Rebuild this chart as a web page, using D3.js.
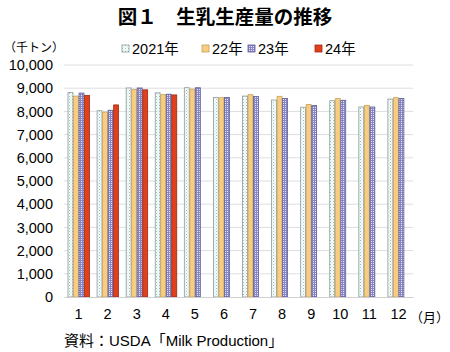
<!DOCTYPE html>
<html>
<head>
<meta charset="utf-8">
<script src="https://cdn.jsdelivr.net/npm/d3@7"></script>
<style>
body { margin: 0; background: #fff; }
text { font-family: "Liberation Sans", Arial, "Noto Sans CJK JP", sans-serif; fill: #000; }
.jp { font-family: "Noto Sans CJK JP", sans-serif; }
</style>
</head>
<body>
<svg id="chart" width="450" height="352"></svg>
<script>
// months on the x axis
var months = ["1", "2", "3", "4", "5", "6", "7", "8", "9", "10", "11", "12"];
var seriesNames = ["2021年", "22年", "23年", "24年"];
// thousand tonnes
var y2021 = [8810, 8030, 9010, 8800, 9020, 8600, 8660, 8490, 8180, 8460, 8190, 8530];
var y2022 = [8660, 7970, 8950, 8720, 8960, 8590, 8720, 8650, 8300, 8550, 8260, 8590];
var y2023 = [8790, 8050, 9010, 8740, 9020, 8600, 8640, 8560, 8250, 8480, 8190, 8560];
var y2024 = [8690, 8280, 8930, 8710];
var yTicks = [0, 1000, 2000, 3000, 4000, 5000, 6000, 7000, 8000, 9000, 10000];

var svg = d3.select("#chart"),
	margin = {top: 65, left: 64, bottom: 55, right: 37},
	width = +svg.attr("width"),
	height = +svg.attr("height");

var defs = svg.append("defs");

// dotted pattern for 2021
var p1 = defs.append("pattern").attr("id", "dots").attr("patternUnits", "userSpaceOnUse")
	.attr("width", 3).attr("height", 3);
p1.append("rect").attr("width", 3).attr("height", 3).attr("fill", "#fbfdfd");
p1.append("rect").attr("x", 0).attr("y", 0).attr("width", 1).attr("height", 1).attr("fill", "#8fc4c4");
p1.append("rect").attr("x", 1.5).attr("y", 1.5).attr("width", 1).attr("height", 1).attr("fill", "#b5dada");

// grid pattern for 2023
var p3 = defs.append("pattern").attr("id", "grid").attr("patternUnits", "userSpaceOnUse")
	.attr("width", 2).attr("height", 2);
p3.append("rect").attr("width", 2).attr("height", 2).attr("fill", "#e6e6f6");
p3.append("rect").attr("width", 2).attr("height", 1).attr("fill", "#8585c8");
p3.append("rect").attr("width", 1).attr("height", 2).attr("fill", "#8585c8");

var fills = ["url(#dots)", "#f7cd84", "url(#grid)", "#e0401c"];
var strokes = ["#8c9a9a", "#c9a15a", "#5c5c96", "#9c2a12"];

var seriesData = [y2021, y2022, y2023, y2024];

var x = d3.scaleBand()
	.domain(months)
	.range([margin.left, width - margin.right])
	.paddingInner(0.24)
	.paddingOuter(0.12);

var xs = d3.scaleBand()
	.domain(seriesNames)
	.range([0, x.bandwidth()])
	.padding(0);

var y = d3.scaleLinear()
	.domain([0, 10000])
	.range([height - margin.bottom, margin.top]);

// gridlines
svg.append("g")
	.selectAll("line")
	.data(yTicks.slice(1))
	.enter().append("line")
	.attr("x1", margin.left)
	.attr("x2", width - margin.right)
	.attr("y1", d => y(d))
	.attr("y2", d => y(d))
	.attr("stroke", "#dedede")
	.attr("stroke-width", 1);

// bars
seriesData.forEach(function(vals, si) {
	svg.append("g")
		.selectAll("rect")
		.data(vals)
		.enter().append("rect")
		.attr("x", (d, i) => x(months[i]) + xs(seriesNames[si]) + 0.5)
		.attr("y", d => y(d))
		.attr("width", xs.bandwidth() - 0.6)
		.attr("height", d => y(0) - y(d))
		.attr("fill", fills[si])
		.attr("stroke", strokes[si])
		.attr("stroke-width", 0.8);
});

// axes
var yAxis = svg.append("g")
	.attr("transform", `translate(${margin.left},0)`)
	.call(d3.axisLeft(y).tickValues(yTicks).tickSize(0).tickPadding(11).tickFormat(d3.format(",")));
yAxis.select(".domain").remove();
yAxis.selectAll("text").style("font-size", "14.5px").attr("fill", "#000");

var xAxis = svg.append("g")
	.attr("transform", `translate(0,${y(0)})`)
	.call(d3.axisBottom(x).tickSize(0).tickPadding(12));
xAxis.select(".domain").attr("stroke", "#d0d0d0");
xAxis.selectAll("text").style("font-size", "14.5px").attr("fill", "#000");

// title
svg.append("text")
	.attr("class", "jp")
	.attr("x", 225)
	.attr("y", 24)
	.attr("text-anchor", "middle")
	.style("font-size", "19.5px")
	.style("font-weight", "bold")
	.text("図１　生乳生産量の推移");

svg.append("text")
	.attr("class", "jp")
	.attr("x", 4)
	.attr("y", 52)
	.style("font-size", "12px")
	.text("（千トン）");

svg.append("text")
	.attr("class", "jp")
	.attr("x", 410)
	.attr("y", 322)
	.style("font-size", "13px")
	.text("（月）");

svg.append("text")
	.attr("x", 64)
	.attr("y", 346)
	.style("font-size", "15px")
	.text("資料：USDA「Milk Production」");

// legend
var legendX = [122, 202, 248, 315];
var legend = svg.append("g")
	.selectAll("g")
	.data(seriesNames)
	.enter().append("g")
	.attr("transform", (d, i) => `translate(${legendX[i]},45)`);
legend.append("rect")
	.attr("x", 0).attr("y", 0).attr("width", 7).attr("height", 7)
	.attr("fill", (d, i) => fills[i])
	.attr("stroke", (d, i) => strokes[i])
	.attr("stroke-width", 0.8);
legend.append("text")
	.attr("x", 10)
	.attr("y", 9)
	.style("font-size", "14.5px")
	.text(d => d);
</script>
</body>
</html>
